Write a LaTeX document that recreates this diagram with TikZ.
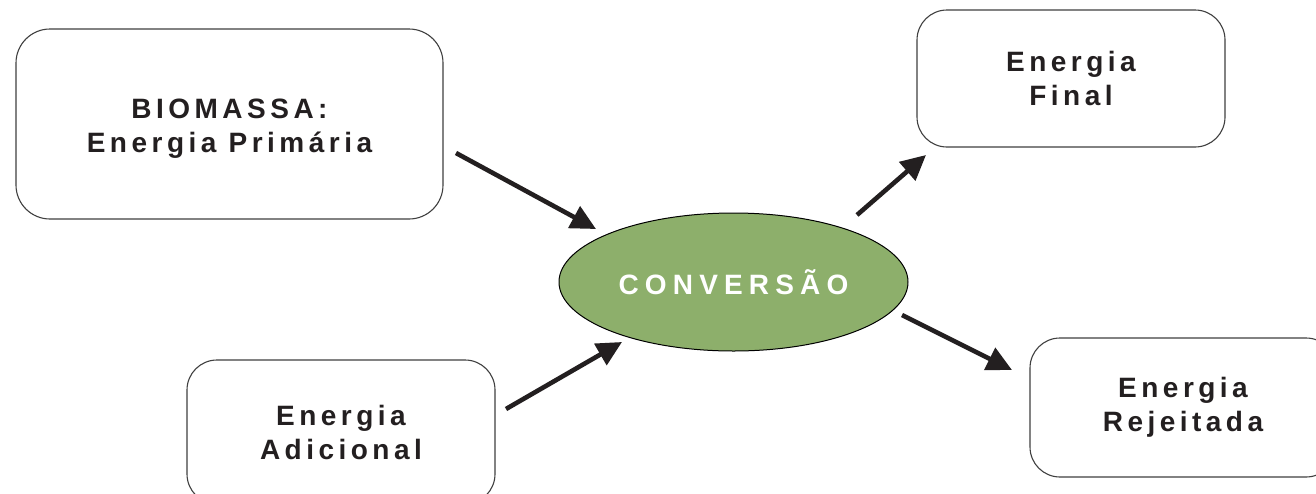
\documentclass[tikz,border=0pt]{standalone}
\usepackage{fontspec}
\setmainfont{Liberation Sans}
\usetikzlibrary{arrows.meta,shapes.geometric}
\definecolor{txt}{HTML}{231F20}
\definecolor{convfill}{HTML}{8DAF6B}
\newfontfamily\boxfont[LetterSpace=16]{Liberation Sans}
\newfontfamily\convfont[LetterSpace=22]{Liberation Sans}
\tikzset{
  box/.style={draw=black!75, line width=1.1pt, rounded corners=34pt, align=center,
    text=txt, font=\boxfont\bfseries\fontsize{28}{34}\selectfont, inner sep=0pt},
  conv/.style={ellipse, draw=black, line width=1pt, fill=convfill, text=white,
    font=\convfont\bfseries\fontsize{28}{34}\selectfont, minimum width=349pt, minimum height=138pt, inner sep=0pt},
  flow/.style={line width=4.6pt, draw=txt, -{Triangle[length=25pt,width=24pt]}}
}
\begin{document}
\begin{tikzpicture}[x=1pt,y=-1pt]
\useasboundingbox (0,0) rectangle (1316,493);
\fill[white] (0,0) rectangle (1316,493);
\clip (0,0) rectangle (1316,493);
\node[box, minimum width=427pt, minimum height=190pt] (bio) at (229.5,124) {\rule{0pt}{29pt}BIOMASSA:\\Energia Primária};
\node[box, minimum width=308pt, minimum height=144pt, rounded corners=30pt] (adic) at (341,432) {Energia\\Adicional};
\node[box, minimum width=308pt, minimum height=137pt, rounded corners=30pt] (final) at (1071,78.5) {Energia\\Final};
\node[box, minimum width=306pt, minimum height=139pt, rounded corners=30pt] (rej) at (1183,407.5) {Energia\\Rejeitada};
\node[conv] (conv) at (733.5,282) {CONVERSÃO};
\coordinate (a1s) at (456,153); \coordinate (a1e) at (596,229);
\coordinate (a2s) at (506,409); \coordinate (a2e) at (622,342);
\coordinate (a3s) at (857,215); \coordinate (a3e) at (926,155);
\coordinate (a4s) at (902,315); \coordinate (a4e) at (1012,370);
\draw[flow] (a1s) -- (a1e);
\draw[flow] (a2s) -- (a2e);
\draw[flow] (a3s) -- (a3e);
\draw[flow] (a4s) -- (a4e);
\end{tikzpicture}
\end{document}
